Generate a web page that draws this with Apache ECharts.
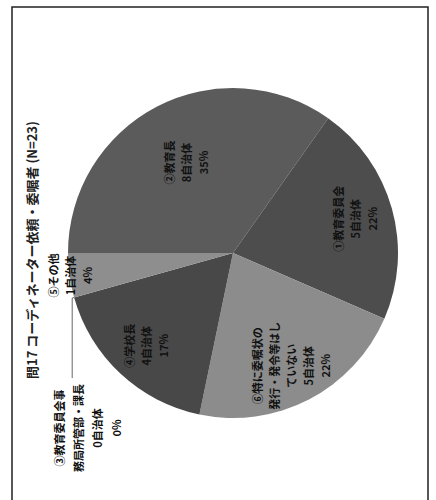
<!DOCTYPE html>
<html><head><meta charset="utf-8">
<script src="https://cdn.jsdelivr.net/npm/echarts@6/dist/echarts.min.js"></script>
<style>
html,body{margin:0;padding:0;background:#fff;overflow:hidden;width:436px;height:500px;}
#chart{position:absolute;left:0;top:0;width:500px;height:436px;transform-origin:0 0;transform:translate(0,500px) rotate(-90deg);}
</style></head><body><div id="chart"></div>
<script>
const titleText = '問17 コーディネーター依頼・委嘱者 (N=23)';
const categories = ['②教育長', '①教育委員会', '⑥特に委嘱状の\n発行・発令等はし\nていない', '④学校長', '③教育委員会事\n務局所管部・課長', '⑤その他'];
const counts = [8, 5, 5, 4, 0, 1];
const unit = '自治体';
const colors = ['#5b5b5b', '#4d4d4d', '#8c8c8c', '#484848', '#484848', '#8e8e8e'];
const nearLabels = ['②教育長'];
const farLabels = ['①教育委員会', '⑥特に委嘱状の\n発行・発令等はし\nていない', '④学校長'];
const edgeLabels = ['⑤その他'];
const outerLabels = ['③教育委員会事\n務局所管部・課長'];

const FONT = '"Noto Sans CJK JP", "Noto Sans", sans-serif';
const C = [247, 233];
const R = 165;
const fmt = p => p.name + '\n' + p.value + unit + '\n' + p.percent + '%';
const baseLabel = {color: '#111', fontFamily: FONT, fontSize: 11, fontWeight: 'bold', lineHeight: 17, overflow: 'none'};

function mkData(showList, colored) {
  return categories.map((n, i) => ({
    name: n, value: counts[i],
    itemStyle: {color: colored ? colors[i] : 'rgba(0,0,0,0)'},
    label: {show: showList.indexOf(n) >= 0},
    labelLine: {show: showList.indexOf(n) >= 0}
  }));
}
function labelSeries(r0, r1, list) {
  return {
    type: 'pie', center: C, radius: [r0, r1], startAngle: 90, clockwise: true,
    percentPrecision: 0, silent: true, avoidLabelOverlap: false, animation: false,
    emphasis: {disabled: true},
    data: mkData(list, false),
    label: Object.assign({position: 'inside', formatter: fmt}, baseLabel),
    labelLine: {show: false}
  };
}

const chart = echarts.init(document.getElementById('chart'), null, {renderer: 'svg'});
chart.setOption({
  backgroundColor: '#fff',
  animation: false,
  title: {text: titleText, left: 'center', top: 20,
    textStyle: {fontFamily: FONT, fontSize: 13, fontWeight: 'bold', color: '#222'}},
  graphic: [{type: 'rect', silent: true, shape: {x: -10, y: 12, width: 503, height: 416},
    style: {fill: 'none', stroke: '#222', lineWidth: 1.5}}],
  series: [
    {
      type: 'pie', center: C, radius: R, startAngle: 90, clockwise: true,
      percentPrecision: 0, silent: true, avoidLabelOverlap: false, animation: false,
      emphasis: {disabled: true},
      itemStyle: {borderWidth: 0},
      data: mkData(outerLabels, true),
      label: Object.assign({position: 'outside', padding: [30, 0, 0, 0],
        formatter: p => '{c|' + fmt(p) + '}',
        rich: {c: {width: 90, align: 'center', fontFamily: FONT, fontSize: 11, fontWeight: 'bold', lineHeight: 19, color: '#111'}}
      }, baseLabel),
      labelLine: {length: 2, length2: 80, lineStyle: {color: '#666', width: 1}}
    },
    labelSeries(33, R, nearLabels),
    labelSeries(83, R, farLabels),
    labelSeries(147, 177, edgeLabels)
  ]
});
</script></body></html>
